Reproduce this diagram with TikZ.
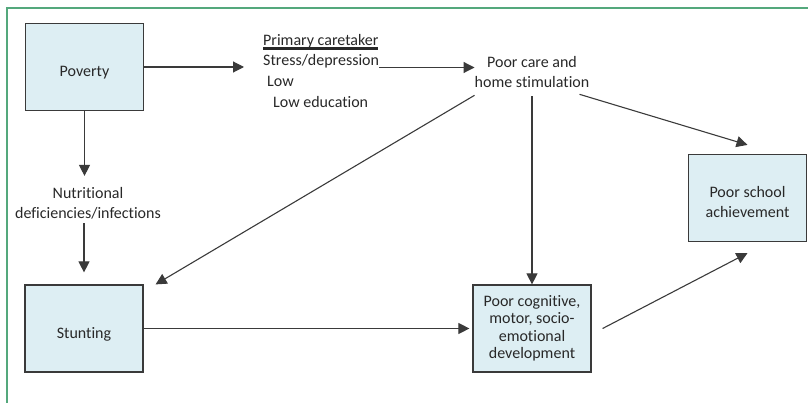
\documentclass[tikz,border=0pt]{standalone}
\usepackage{fontspec}
\setmainfont{Carlito}[Ligatures=NoCommon]
\usetikzlibrary{%
    arrows.meta,
    positioning
}
\definecolor{boxblue}{RGB}{221,238,243}
\definecolor{boxline}{RGB}{58,58,58}
\definecolor{framegreen}{RGB}{84,168,124}
\definecolor{txtgray}{RGB}{40,40,40}
\newcommand{\factorfont}{\fontsize{16}{20}\selectfont}
\newcommand{\thickul}[1]{\setbox0\hbox{#1}\rlap{\rule[-4.5pt]{\wd0}{2.5pt}}\box0}
\tikzset{headarrow/.style = {-{Triangle[length=11pt,width=11pt]}, line width=1.1pt, draw=boxline}}
\tikzset{factor/.style = {draw=boxline, fill=boxblue, line width=1.2pt,
    minimum width=118pt, minimum height=87pt, inner sep=0pt,
    align=center, font=\factorfont, text=txtgray}}
\tikzset{factorline/.style = {factor, text height=20pt, text depth=0pt}}
\tikzset{plain/.style = {inner sep=0pt, font=\factorfont, text=txtgray}}

\begin{document}
\begin{tikzpicture}[x=1pt, y=-1pt]
    \useasboundingbox (0,0) rectangle (808,403);
    \draw[framegreen, line width=1.6pt] (808,8) -- (7,8) -- (7,403);

    \node[factorline] (poverty) at (84.5,67) {Poverty};
    \node[factorline] (stunting) at (84,328.5) {Stunting};
    \node[factor, font=\fontsize{16}{17.5}\selectfont] (cog) at (532,328.5)
        {Poor cognitive,\\motor, socio-\\emotional\\development};
    \node[factor] (school) at (747.5,198) {\rule{0pt}{20pt}Poor school\\achievement};

    \node[plain, align=center] (nutri) at (88,203) {Nutritional\\deficiencies/infections};
    \node[plain, align=left, anchor=north west, font=\fontsize{16}{20.6}\selectfont] (ct) at (263,34)
        {\thickul{Primary caretaker}\\Stress/depression\\\hspace*{4pt}Low\\\hspace*{10pt}Low education};
    \node[plain, align=center] (care) at (532,72.5) {Poor care and\\home stimulation};
    \coordinate (stressend) at ([yshift=5pt]care.west);

    \draw[headarrow, shorten >=19pt] (poverty.east) -- (poverty.east -| ct.west);
    \draw[headarrow] (stressend -| ct.east) -- (stressend);
    \draw[headarrow, shorten >=11pt] (poverty.south) -- (poverty.south |- nutri.north);
    \draw[headarrow, shorten <=4pt, shorten >=12pt] (nutri.south -| stunting.north) -- (stunting.north);
    \draw[headarrow, shorten >=3pt] (stunting.east) -- (cog.west);
    \draw[headarrow] ([yshift=-7pt]care.south west) -- ([xshift=12pt]stunting.north east);
    \draw[headarrow] ([yshift=-8pt]care.south) -- (cog.north);
    \draw[headarrow] ([xshift=-10pt,yshift=-6pt]care.south east) -- ([yshift=9pt]school.north);
    \draw[headarrow] ([xshift=11pt]cog.east) -- ([yshift=-11pt]school.south);
\end{tikzpicture}
\end{document}
